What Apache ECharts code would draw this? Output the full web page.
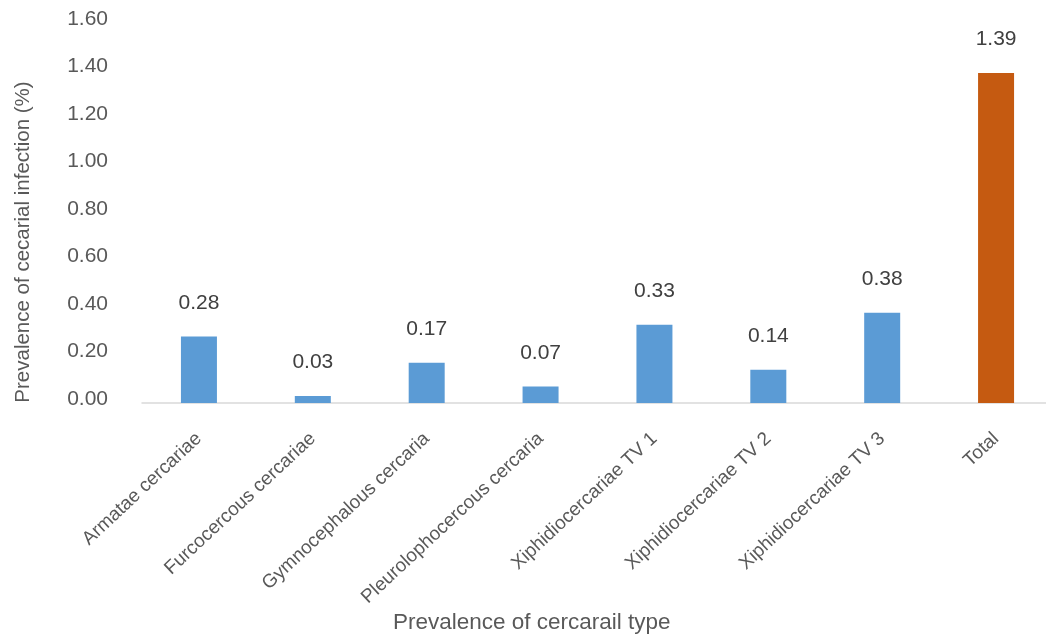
<!DOCTYPE html>
<html>
<head>
<meta charset="utf-8">
<script src="https://cdn.jsdelivr.net/npm/echarts@6/dist/echarts.min.js"></script>
<style>
  html, body { margin: 0; padding: 0; background: #ffffff; overflow: hidden; width: 1046px; height: 636px; }
  /* the plot area runs a few pixels past the right edge, so the canvas is a bit wider than the page */
  #chart { width: 1053px; height: 636px; }
</style>
</head>
<body>
<div id="chart"></div>
<script>
// Cercarial types and their prevalence of infection (%)
const categories = [
  'Armatae cercariae',
  'Furcocercous cercariae',
  'Gymnocephalous cercaria',
  'Pleurolophocercous cercaria',
  'Xiphidiocercariae TV 1',
  'Xiphidiocercariae TV 2',
  'Xiphidiocercariae TV 3',
  'Total'
];
const prevalence = [0.28, 0.03, 0.17, 0.07, 0.33, 0.14, 0.38, 1.39];
const barColors = ['#5B9BD5', '#5B9BD5', '#5B9BD5', '#5B9BD5', '#5B9BD5', '#5B9BD5', '#5B9BD5', '#C55A11'];

const FONT = 'Liberation Sans, Arial, sans-serif';
const TEXT = '#595959';

const chart = echarts.init(document.getElementById('chart'), null, { renderer: 'canvas' });
chart.setOption({
  animation: false,
  backgroundColor: '#ffffff',
  grid: { left: 142, right: 0, top: 23, height: 380, containLabel: false },
  xAxis: {
    type: 'category',
    data: categories,
    axisLine: { show: true, lineStyle: { color: '#D9D9D9', width: 1.5 } },
    axisTick: { show: false },
    axisLabel: {
      interval: 0,
      rotate: 43,
      margin: 33,
      color: TEXT,
      fontFamily: FONT,
      fontSize: 19
    }
  },
  yAxis: {
    type: 'value',
    min: 0,
    max: 1.6,
    interval: 0.2,
    axisLine: { show: false },
    axisTick: { show: false },
    splitLine: { show: false },
    axisLabel: {
      margin: 34,
      verticalAlign: 'bottom',
      lineHeight: 8,
      color: TEXT,
      fontFamily: FONT,
      fontSize: 21,
      formatter: v => v.toFixed(2)
    }
  },
  graphic: [
    {
      type: 'text',
      x: 23,
      y: 242,
      rotation: Math.PI / 2,
      style: {
        text: 'Prevalence of cecarial infection (%)',
        fill: TEXT,
        font: '20.5px ' + FONT,
        align: 'center',
        verticalAlign: 'middle'
      }
    },
    {
      type: 'text',
      left: 393,
      top: 611,
      style: {
        text: 'Prevalence of cercarail type',
        fill: TEXT,
        font: '22.5px ' + FONT
      }
    }
  ],
  series: [{
    type: 'bar',
    data: prevalence.map((v, i) => ({ value: v, itemStyle: { color: barColors[i] } })),
    barWidth: 36,
    label: {
      show: true,
      position: 'top',
      distance: 23,
      color: '#404040',
      fontFamily: FONT,
      fontSize: 21,
      formatter: p => p.value.toFixed(2)
    }
  }]
});
</script>
</body>
</html>
